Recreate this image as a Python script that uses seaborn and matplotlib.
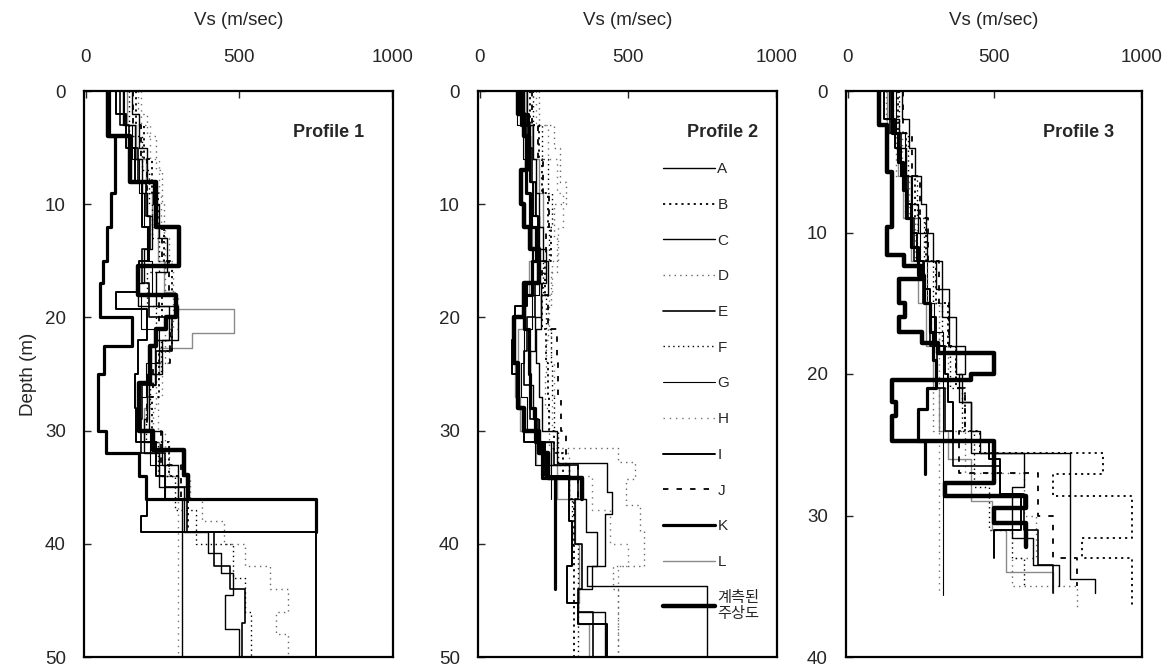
import numpy as np
import pandas as pd
import matplotlib
matplotlib.use("Agg")
import matplotlib.pyplot as plt
import seaborn as sns

# ---------------- data: layer boundaries (m) and shear-wave velocity (m/s) ----------------
LABELS = ["A", "B", "C", "D", "E", "F", "G", "H", "I", "J", "K", "L", "계측된\n주상도"]
PANEL_TITLES = ["Profile 1", "Profile 2", "Profile 3"]
PANEL_DEPTH_MAX = [50, 50, 40]
X_TICKS = [0, 500, 1000]

# ---- Profile 1
P1_A_d = [0, 2, 5, 8, 10, 13, 16, 19, 22, 26, 30, 33, 36, 50]
P1_A_v = [150, 175, 200, 220, 240, 265, 230, 270, 225, 205, 250, 300, 315]
P1_B_d = [0, 3, 6, 9, 12, 15, 18, 20, 23, 27, 31, 34, 39]
P1_B_v = [165, 190, 215, 235, 255, 280, 250, 280, 240, 215, 270, 335]
P1_C_d = [0, 3, 6, 9, 11, 14, 17, 19, 22, 25, 29, 32, 35, 39, 40.8, 42.6, 44.5, 47.5, 50]
P1_C_v = [120, 160, 185, 200, 215, 190, 170, 300, 250, 200, 190, 240, 320, 400, 440, 480, 455, 500]
P1_D_d = [0, 2, 4, 7, 10, 13, 15, 18, 21, 24, 28, 31, 34, 36, 38, 40, 42, 44, 46, 48, 50]
P1_D_v = [170, 200, 230, 250, 255, 270, 260, 285, 260, 230, 220, 270, 340, 380, 450, 520, 600, 660, 620, 660]
P1_E_d = [0, 3, 5, 8, 11, 14, 17, 20, 23, 26, 29, 32, 35, 39, 42, 44, 47, 50]
P1_E_v = [110, 140, 170, 195, 210, 185, 205, 280, 230, 185, 180, 260, 330, 420, 470, 520, 510]
P1_F_d = [0, 4, 7, 10, 13, 16, 19, 22, 25, 28, 31, 34, 37, 40, 43, 46, 50]
P1_F_v = [140, 185, 205, 215, 240, 200, 230, 245, 210, 195, 235, 290, 360, 480, 520, 540]
P1_G_d = [0, 3, 6, 9, 12, 15, 18, 21, 24, 27, 30, 33, 36]
P1_G_v = [125, 150, 175, 190, 200, 215, 180, 240, 195, 170, 210, 260]
P1_H_d = [0, 3, 6, 9, 12, 15, 18, 21, 24, 27, 30, 33, 36, 50]
P1_H_v = [180, 210, 240, 245, 260, 285, 300, 270, 250, 235, 260, 300, 300]
P1_I_d = [0, 2, 5, 8, 12, 15, 17.8, 19.3, 22, 25, 28, 31, 34, 36, 37.5, 39, 50]
P1_I_v = [100, 130, 160, 185, 205, 175, 100, 200, 170, 160, 165, 230, 260, 200, 181, 753]
P1_J_d = [0, 3, 6, 9, 12, 15, 18, 21, 24, 27, 30, 33, 36]
P1_J_v = [155, 180, 200, 230, 250, 270, 240, 275, 220, 200, 245, 310]
P1_K_d = [0, 4, 9, 12, 15, 17, 20, 22.5, 25, 30, 32, 34, 36, 39]
P1_K_v = [75, 95, 82, 68, 55, 45, 150, 60, 40, 67, 175, 197, 753]
P1_L_d = [0, 3, 6, 9, 12, 15, 17.8, 19.3, 21.4, 22.7, 25, 28, 31, 34, 36]
P1_L_v = [135, 165, 195, 215, 235, 255, 290, 484, 348, 240, 200, 190, 240, 300]
P1_M_d = [0, 4, 8, 12, 15.5, 18, 20, 21, 22.5, 25.8, 30, 31.7, 33.9, 36]
P1_M_v = [72, 145, 230, 305, 170, 295, 262, 230, 208, 175, 218, 321, 335]

# ---- Profile 2
P2_A_d = [0, 3, 6, 9, 12, 15, 18, 21, 24, 27, 30, 32.9, 35.4, 37.4, 42, 43.7, 50]
P2_A_v = [160, 180, 190, 200, 215, 230, 205, 190, 200, 210, 260, 430, 445, 424, 362, 768]
P2_B_d = [0, 3, 6, 9, 12, 15, 18, 21, 24, 27, 30, 32, 34, 36, 50]
P2_B_v = [170, 200, 210, 230, 240, 220, 210, 225, 230, 235, 250, 280, 300, 318]
P2_C_d = [0, 4, 8, 11, 14, 17, 20, 23, 26, 29, 31, 33, 36, 39, 42, 44, 46, 50]
P2_C_v = [150, 170, 185, 200, 225, 205, 185, 170, 180, 200, 240, 300, 360, 396, 380, 332, 424]
P2_D_d = [0, 3, 5, 8, 10, 13, 16, 19, 22, 25, 28, 31.5, 32.8, 34.3, 36.6, 38.9, 42, 44, 50]
P2_D_v = [200, 250, 270, 290, 250, 260, 240, 230, 225, 220, 235, 468, 525, 492, 542, 553, 451, 468]
P2_E_d = [0, 2, 5, 8, 11, 14, 17, 20, 23, 26, 29, 31, 33, 36, 40, 44, 46, 50]
P2_E_v = [135, 160, 175, 190, 170, 200, 185, 160, 150, 170, 195, 250, 330, 320, 345, 332, 383]
P2_F_d = [0, 3, 6, 9, 12, 15, 18, 21, 24, 27, 30, 33, 36, 40, 44, 50]
P2_F_v = [180, 210, 230, 245, 235, 215, 225, 240, 245, 250, 265, 300, 310, 330, 330]
P2_G_d = [0, 3, 6, 9, 12, 15, 18, 21, 24, 27, 30, 33, 36]
P2_G_v = [125, 145, 160, 175, 185, 200, 175, 150, 140, 160, 185, 240]
P2_H_d = [0, 3, 6, 9, 12, 15, 18, 21, 24, 27, 30, 32, 34, 37, 40, 42, 50]
P2_H_v = [190, 230, 260, 280, 265, 245, 235, 240, 250, 245, 260, 300, 380, 440, 500, 468]
P2_I_d = [0, 2, 5, 8, 11, 14, 17, 19, 22, 25, 28, 31, 34, 38, 42, 45.2, 47.1, 50]
P2_I_v = [145, 165, 170, 180, 195, 180, 160, 120, 110, 125, 150, 220, 300, 310, 296, 332, 430]
P2_J_d = [0, 3, 6, 9, 12, 15, 18, 21, 24, 27, 30, 33, 36]
P2_J_v = [175, 195, 215, 235, 225, 210, 230, 260, 265, 275, 290, 330]
P2_K_d = [0, 3, 6, 9, 12, 15, 18, 21, 25, 28, 31, 34.2, 44]
P2_K_v = [140, 165, 155, 170, 190, 175, 150, 165, 170, 185, 210, 254]
P2_L_d = [0, 3, 6, 9, 12, 15, 18, 21, 24, 27, 30, 33, 36, 40, 45.2, 47.1, 50]
P2_L_v = [155, 175, 200, 215, 175, 165, 145, 130, 120, 135, 190, 260, 320, 335, 332, 370]
P2_M_d = [0, 2, 4, 7, 10, 12, 14, 17, 20, 24, 28, 30, 32, 34.2, 36]
P2_M_v = [130, 150, 160, 140, 150, 170, 200, 150, 115, 130, 150, 200, 231, 345]

# ---- Profile 3
P3_A_d = [0, 2, 4, 6, 8, 10, 12, 14, 16, 18, 20, 22, 25.6, 34.5, 35.5]
P3_A_v = [140, 175, 200, 215, 240, 270, 300, 320, 345, 370, 390, 420, 758, 842]
P3_B_d = [0, 3, 6, 9, 12, 15, 18, 21, 24, 25.6, 27.1, 28.6, 31.6, 33, 36.5]
P3_B_v = [170, 200, 230, 265, 300, 340, 370, 400, 450, 869, 700, 970, 800, 970]
P3_C_d = [0, 2, 4, 6, 8, 10, 12, 14, 16, 18, 20, 22, 24, 25.6, 28, 31.6, 33.5, 35]
P3_C_v = [185, 210, 230, 250, 265, 290, 320, 345, 370, 400, 380, 420, 450, 600, 560, 630, 720]
P3_D_d = [0, 3, 6, 9, 12, 15, 18, 21, 24, 27, 30, 33, 35, 36.5]
P3_D_v = [130, 165, 195, 230, 270, 310, 340, 290, 400, 600, 640, 560, 780]
P3_E_d = [0, 3, 6, 9, 12, 15, 18, 21, 24, 26.5, 28.5, 31, 33.5, 35.5]
P3_E_v = [145, 180, 205, 225, 255, 280, 305, 330, 360, 520, 600, 650, 700]
P3_F_d = [0, 3, 6, 9, 12, 15, 18, 21, 24, 28, 31, 33, 35]
P3_F_v = [175, 205, 235, 260, 290, 320, 350, 390, 430, 480, 560, 600]
P3_G_d = [0, 3, 6, 9, 12, 15, 17, 35.6]
P3_G_v = [165, 195, 220, 245, 270, 295, 326]
P3_H_d = [0, 3, 6, 9, 12, 15, 17, 35.6]
P3_H_v = [155, 185, 210, 235, 260, 285, 310]
P3_I_d = [0, 2, 4, 6, 8, 10, 12, 14, 16, 18, 20, 22, 24.7, 26, 28.5, 31, 33]
P3_I_v = [125, 160, 180, 200, 215, 235, 260, 280, 300, 330, 340, 360, 480, 520, 590, 500]
P3_J_d = [0, 3, 6, 9, 12, 15, 18, 21, 24, 27, 30, 33, 35]
P3_J_v = [190, 220, 245, 275, 310, 345, 370, 400, 380, 650, 700, 780]
P3_K_d = [0, 3, 5, 7, 9, 11, 13, 15, 17, 19, 21, 22.5, 24.7, 27.1]
P3_K_v = [150, 170, 190, 200, 215, 240, 260, 280, 290, 300, 270, 240, 263]
P3_L_d = [0, 3, 6, 9, 12, 15, 18, 21, 24, 26, 29, 31, 34, 35.5]
P3_L_v = [135, 170, 190, 215, 240, 265, 290, 310, 340, 420, 490, 540, 700]
P3_M_d = [0, 2.4, 5.7, 9.6, 11.6, 12.4, 13.3, 15, 16, 17, 17.8, 18.5, 20, 20.4, 22, 23, 24.7, 27.7, 28.6, 29.5, 30.5, 32.2]
P3_M_v = [107, 135, 151, 135, 191, 252, 174, 195, 174, 252, 308, 499, 421, 151, 165, 151, 499, 330, 606, 499, 606]

PANELS = [
    [(P1_A_d, P1_A_v), (P1_B_d, P1_B_v), (P1_C_d, P1_C_v), (P1_D_d, P1_D_v), (P1_E_d, P1_E_v),
     (P1_F_d, P1_F_v), (P1_G_d, P1_G_v), (P1_H_d, P1_H_v), (P1_I_d, P1_I_v), (P1_J_d, P1_J_v),
     (P1_K_d, P1_K_v), (P1_L_d, P1_L_v), (P1_M_d, P1_M_v)],
    [(P2_A_d, P2_A_v), (P2_B_d, P2_B_v), (P2_C_d, P2_C_v), (P2_D_d, P2_D_v), (P2_E_d, P2_E_v),
     (P2_F_d, P2_F_v), (P2_G_d, P2_G_v), (P2_H_d, P2_H_v), (P2_I_d, P2_I_v), (P2_J_d, P2_J_v),
     (P2_K_d, P2_K_v), (P2_L_d, P2_L_v), (P2_M_d, P2_M_v)],
    [(P3_A_d, P3_A_v), (P3_B_d, P3_B_v), (P3_C_d, P3_C_v), (P3_D_d, P3_D_v), (P3_E_d, P3_E_v),
     (P3_F_d, P3_F_v), (P3_G_d, P3_G_v), (P3_H_d, P3_H_v), (P3_I_d, P3_I_v), (P3_J_d, P3_J_v),
     (P3_K_d, P3_K_v), (P3_L_d, P3_L_v), (P3_M_d, P3_M_v)],
]

# ---------------- styles ----------------
STYLES = [
    dict(color="black", linewidth=1.0, linestyle="-"),             # A
    dict(color="black", linewidth=1.3, linestyle=(0, (1.2, 2.2))),   # B
    dict(color="black", linewidth=1.0, linestyle="-"),             # C
    dict(color="#666666", linewidth=1.0, linestyle=(0, (1, 3))),    # D
    dict(color="black", linewidth=1.2, linestyle="-"),             # E
    dict(color="black", linewidth=1.0, linestyle=(0, (1, 2.5))),    # F
    dict(color="black", linewidth=0.8, linestyle="-"),             # G
    dict(color="#777777", linewidth=1.0, linestyle=(0, (1, 3.5))),  # H
    dict(color="black", linewidth=1.4, linestyle="-"),             # I
    dict(color="black", linewidth=1.3, linestyle=(0, (3, 4.5))),    # J
    dict(color="black", linewidth=2.3, linestyle="-"),             # K
    dict(color="#8a8a8a", linewidth=1.0, linestyle="-"),           # L
    dict(color="black", linewidth=3.2, linestyle="-"),             # measured
]


def step_frame(depths, vs):
    xs, ys = [], []
    for i, v in enumerate(vs):
        xs += [v, v]
        ys += [depths[i], depths[i + 1]]
    return pd.DataFrame({"vs": xs, "depth": ys})


sns.set_style("ticks")
plt.rcParams["font.family"] = ["Liberation Sans", "Noto Sans CJK KR", "DejaVu Sans"]

fig = plt.figure(figsize=(11.76, 6.66), dpi=100)
W, H = 1176, 666
ax_px = [(84, 309), (478, 299), (846, 296)]
top_px, bot_px = 91, 657

for p, (panel, (left, width)) in enumerate(zip(PANELS, ax_px)):
    ax = fig.add_axes([left / W, (H - bot_px) / H, width / W, (bot_px - top_px) / H])
    order = [11, 6, 7, 3, 5, 1, 0, 2, 4, 9, 8, 10, 12]
    for idx in order:
        d, v = panel[idx]
        df = step_frame(d, v)
        lab = LABELS[idx] if p == 1 else None
        sns.lineplot(data=df, x="vs", y="depth", sort=False, estimator=None, ax=ax,
                     label=lab, **STYLES[idx])
    ax.set_xlim(-6, 1003)
    ax.set_ylim(PANEL_DEPTH_MAX[p], 0)
    ax.xaxis.tick_top()
    ax.xaxis.set_label_position("top")
    ax.set_xticks(X_TICKS)
    ax.set_yticks(np.arange(0, PANEL_DEPTH_MAX[p] + 1, 10))
    ax.tick_params(axis="x", direction="in", length=5, width=1, pad=18, labelsize=13.5,
                   top=True, bottom=False)
    ax.tick_params(axis="y", direction="in", length=5, width=1, pad=13, labelsize=13.5,
                   left=True, right=False)
    ax.set_xlabel("Vs (m/sec)", fontsize=13.5, labelpad=17)
    if p == 0:
        ax.set_ylabel("Depth (m)", fontsize=13.5, labelpad=6)
    else:
        ax.set_ylabel("")
    for s in ax.spines.values():
        s.set_visible(True)
        s.set_linewidth(1.6)
        s.set_color("black")
    ax.text(0.905 if p != 1 else 0.936, 0.926, PANEL_TITLES[p], transform=ax.transAxes,
            ha="right", va="center", fontsize=13, fontweight="bold")
    if p == 1:
        handles, labels = ax.get_legend_handles_labels()
        hmap = dict(zip(labels, handles))
        hs = [hmap[l] for l in LABELS]
        ax.legend(hs, LABELS, loc="upper left", bbox_to_anchor=(0.619, 0.874),
                  frameon=False, borderpad=0, borderaxespad=0, handlelength=3.4,
                  handletextpad=0.15, labelspacing=1.42, fontsize=11)
    else:
        leg = ax.get_legend()
        if leg is not None:
            leg.remove()

fig.savefig("out.png", dpi=100)
